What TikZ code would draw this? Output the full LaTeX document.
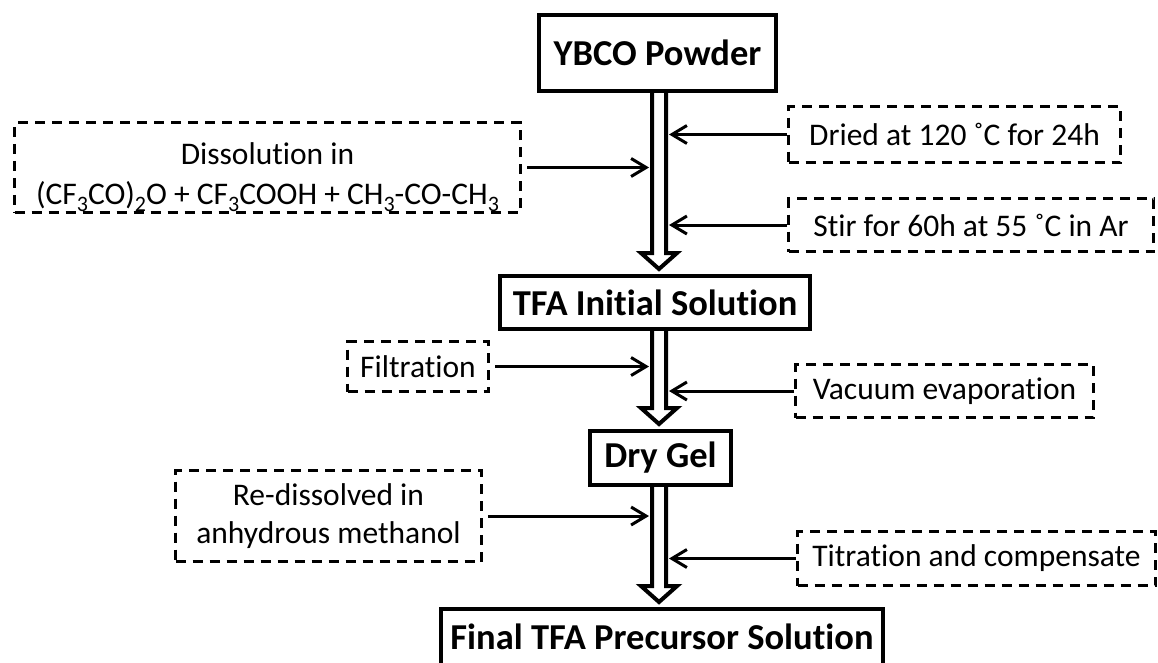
\documentclass[tikz,border=0pt]{standalone}
\usepackage{fontspec}
\setmainfont{Carlito}[Ligatures=NoCommon]
\usetikzlibrary{arrows.meta,backgrounds}
\newcommand\hollowarr[2]{\draw[hollow] ([xshift=-7pt]#1) -- ([xshift=-7pt,yshift=21pt]#2) -- ([xshift=-18pt,yshift=21pt]#2) -- ([yshift=5pt]#2) -- ([xshift=18pt,yshift=21pt]#2) -- ([xshift=7pt,yshift=21pt]#2) -- ([xshift=7pt]#1);}
\newcommand\lowsub[1]{\raisebox{-7pt}{\fontsize{22}{22}\selectfont #1}}
\begin{document}
\begin{tikzpicture}[x=1pt,y=-1pt,
  stepbox/.style={draw,line width=4pt,inner sep=0pt,font=\fontsize{36.5}{42}\selectfont\bfseries,align=center},
  notebox/.style={draw,line width=3pt,dash pattern=on 10pt off 7pt,inner sep=0pt,font=\fontsize{31.5}{38}\selectfont,align=center},
  conn/.style={line width=3pt,-{Straight Barb[length=15pt,width=18pt]}},
  hollow/.style={line width=4pt,fill=white,line join=miter}]
\useasboundingbox (0,0) rectangle (1158,662);
\clip (0,0) rectangle (1158,662);

% main steps
\node[stepbox,minimum width=237pt,minimum height=76pt] (ybco) at (657.5,53) {YBCO Powder};
\node[stepbox,minimum width=310pt,minimum height=53pt] (tfa) at (655,302.5) {TFA Initial Solution};
\node[stepbox,minimum width=141pt,minimum height=54pt] (gel) at (660.5,458) {Dry Gel};
\node[stepbox,minimum width=442pt,minimum height=56pt] (final) at (662,637) {Final TFA Precursor Solution};

% side notes
\node[notebox,minimum width=506pt,minimum height=84pt,font=\fontsize{31.5}{40}\selectfont] (dis) at (267.5,167.5) {\rule{0pt}{42pt}Dissolution in\\(CF\lowsub{3}CO)\lowsub{2}O + CF\lowsub{3}COOH + CH\lowsub{3}-CO-CH\lowsub{3}};
\node[notebox,minimum width=332pt,minimum height=56pt] (dried) at (954.5,134.5) {Dried at 120 ˚C for 24h};
\node[notebox,minimum width=365pt,minimum height=53pt] (stir) at (971,225) {Stir for 60h at 55 ˚C in Ar};
\node[notebox,minimum width=141pt,minimum height=50pt] (filt) at (418,366.5) {Filtration};
\node[notebox,minimum width=298pt,minimum height=53pt] (vac) at (944.5,391) {Vacuum evaporation};
\node[notebox,minimum width=306pt,minimum height=91pt] (redis) at (328.5,516) {Re-dissolved in\\anhydrous methanol};
\node[notebox,minimum width=358pt,minimum height=54pt] (titr) at (976.5,558.5) {Titration and compensate};

% shaft reference coordinates
\coordinate (sx) at (659,0);
\coordinate (sl) at (649,0);
\coordinate (sr) at (669,0);
\coordinate (a1) at (ybco.south -| sx);
\coordinate (b1) at (tfa.north -| sx);
\coordinate (a2) at (tfa.south -| sx);
\coordinate (b2) at (gel.north -| sx);
\coordinate (a3) at (gel.south -| sx);
\coordinate (b3) at (final.north -| sx);

\begin{scope}[on background layer]
\hollowarr{a1}{b1}
\hollowarr{a2}{b2}
\hollowarr{a3}{b3}
\end{scope}

% connectors
\draw[conn,shorten <=5pt] (dis.east) -- (dis.east -| sl);
\draw[conn] (dried.west) -- (dried.west -| sr);
\draw[conn] (stir.west) -- (stir.west -| sr);
\draw[conn,shorten <=5pt] (filt.east) -- (filt.east -| sl);
\draw[conn] (vac.west) -- (vac.west -| sr);
\draw[conn,shorten <=5pt] (redis.east) -- (redis.east -| sl);
\draw[conn] (titr.west) -- (titr.west -| sr);
\end{tikzpicture}
\end{document}
